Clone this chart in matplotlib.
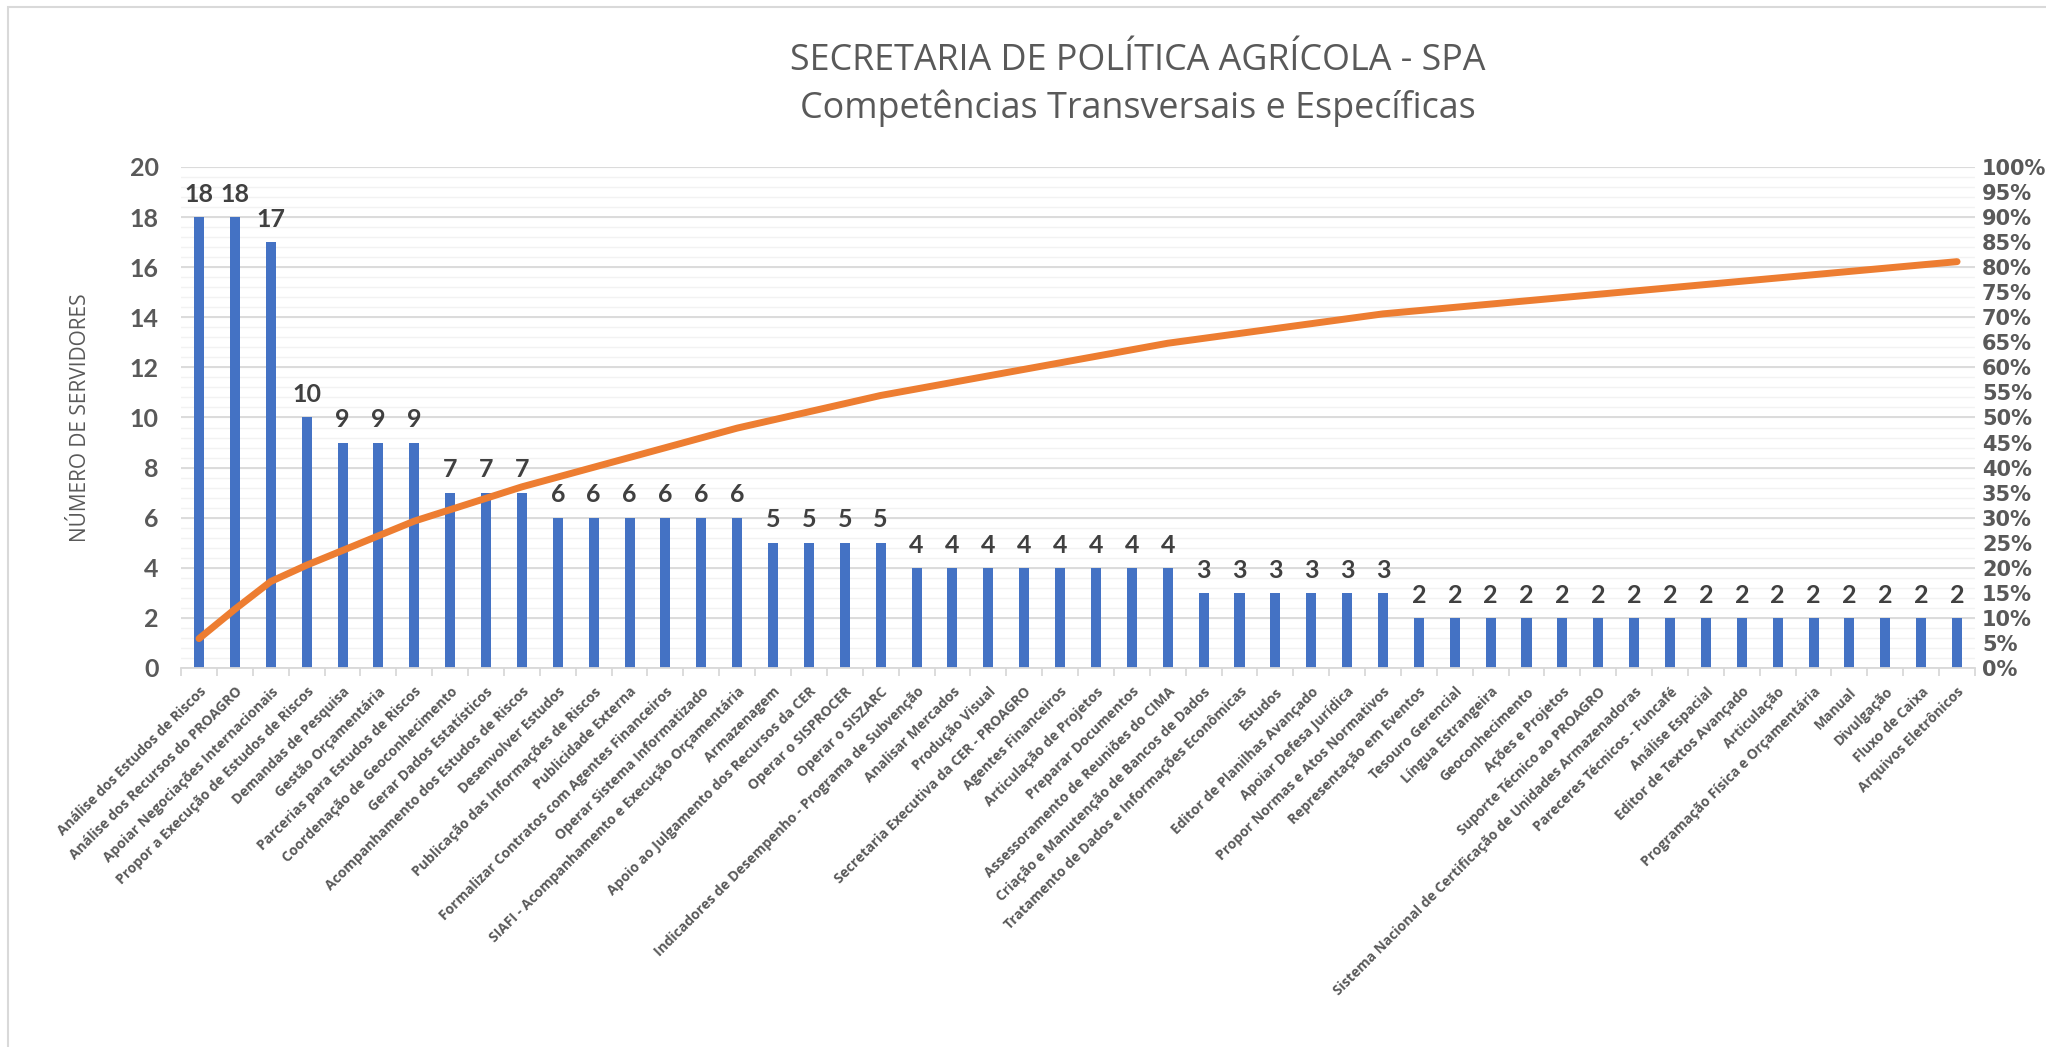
import numpy as np
import matplotlib
matplotlib.use("Agg")
from matplotlib import pyplot as plt
from matplotlib.patches import Rectangle

# competencias e numero de servidores
competencias = [
    "Análise dos Estudos de Riscos", "Análise dos Recursos do PROAGRO",
    "Apoiar Negociações Internacionais", "Propor a Execução de Estudos de Riscos",
    "Demandas de Pesquisa", "Gestão Orçamentária", "Parcerias para Estudos de Riscos",
    "Coordenação de Geoconhecimento", "Gerar Dados Estatísticos",
    "Acompanhamento dos Estudos de Riscos", "Desenvolver Estudos",
    "Publicação das Informações de Riscos", "Publicidade Externa",
    "Formalizar Contratos com Agentes Financeiros", "Operar Sistema Informatizado",
    "SIAFI - Acompanhamento e Execução Orçamentária", "Armazenagem",
    "Apoio ao Julgamento dos Recursos da CER", "Operar o SISPROCER", "Operar o SISZARC",
    "Indicadores de Desempenho - Programa de Subvenção", "Analisar Mercados",
    "Produção Visual", "Secretaria Executiva da CER - PROAGRO", "Agentes Financeiros",
    "Articulação de Projetos", "Preparar Documentos", "Assessoramento de Reuniões do CIMA",
    "Criação e Manutenção de Bancos de Dados",
    "Tratamento de Dados e Informações Econômicas", "Estudos",
    "Editor de Planilhas Avançado", "Apoiar Defesa Jurídica",
    "Propor Normas e Atos Normativos", "Representação em Eventos", "Tesouro Gerencial",
    "Língua Estrangeira", "Geoconhecimento", "Ações e Projetos",
    "Suporte Técnico ao PROAGRO",
    "Sistema Nacional de Certificação de Unidades Armazenadoras",
    "Pareceres Técnicos - Funcafé", "Análise Espacial", "Editor de Textos Avançado",
    "Articulação", "Programação Física e Orçamentária", "Manual", "Divulgação",
    "Fluxo de Caixa", "Arquivos Eletrônicos",
]
servidores = [18, 18, 17, 10, 9, 9, 9, 7, 7, 7,
              6, 6, 6, 6, 6, 6, 5, 5, 5, 5,
              4, 4, 4, 4, 4, 4, 4, 4, 3, 3,
              3, 3, 3, 3, 2, 2, 2, 2, 2, 2,
              2, 2, 2, 2, 2, 2, 2, 2, 2, 2]
# total de servidores usado no acumulado (a linha termina em ~81%)
total_servidores = 307

cinza = "#595959"
azul = "#4472C4"
laranja = "#ED7D31"

x = np.arange(len(competencias))
acumulado = np.cumsum(servidores) / total_servidores

fig = plt.figure(figsize=(20.46, 10.47), dpi=100)
ax = fig.add_axes([0.0885, 0.362, 0.8768, 0.4785])

# moldura do grafico
fig.patches.append(Rectangle((0.004, -0.05), 1.2, 1.043, transform=fig.transFigure,
                             fill=False, edgecolor="#D9D9D9", linewidth=1.5))

# grades
for v in np.arange(0, 20.01, 0.4):
    ax.axhline(v, color="#F2F2F2", linewidth=1, zorder=0)
for v in range(0, 21, 2):
    ax.axhline(v, color="#D9D9D9", linewidth=1.3, zorder=0)

ax.bar(x, servidores, width=0.28, color=azul, zorder=2)
for xi, v in zip(x, servidores):
    ax.text(xi, v + 0.45, str(v), ha="center", va="bottom", fontsize=18,
            fontweight="bold", color="#404040", family="Lato")

ax.set_xlim(-0.5, len(competencias) - 0.5)
ax.set_ylim(0, 20)
ax.set_yticks(range(0, 21, 2))
ax.tick_params(axis="y", length=0, labelsize=18, labelcolor=cinza, pad=16)
for t in ax.get_yticklabels():
    t.set_fontweight("bold")
    t.set_family("Lato")

ax.set_xticks(x)
ax.set_xticklabels(competencias, rotation=45, ha="right", rotation_mode="anchor",
                   fontsize=10, fontweight="bold", color=cinza, family="Open Sans")
ax.set_xticks(np.arange(-0.5, len(competencias)), minor=True)
ax.tick_params(axis="x", which="major", length=0, pad=12)
ax.tick_params(axis="x", which="minor", length=6, color="#D9D9D9", width=1.3)

for s in ["top", "right", "left"]:
    ax.spines[s].set_visible(False)
ax.spines["bottom"].set_color("#D9D9D9")
ax.spines["bottom"].set_linewidth(1.3)

ax.set_ylabel("NÚMERO DE SERVIDORES", fontsize=15, color=cinza, family="Open Sans",
              labelpad=28)

# eixo secundario com o acumulado
ax2 = ax.twinx()
ax2.plot(x, acumulado, color=laranja, linewidth=5, solid_capstyle="round", zorder=3)
ax2.set_ylim(0, 1)
ax2.set_yticks(np.arange(0, 1.001, 0.05))
ax2.set_yticklabels([f"{int(round(v * 100))}%" for v in np.arange(0, 1.001, 0.05)])
ax2.tick_params(axis="y", length=0, labelsize=15, labelcolor=cinza, pad=5)
for t in ax2.get_yticklabels():
    t.set_fontweight("bold")
for s in ax2.spines.values():
    s.set_visible(False)

fig.text(0.556, 0.942, "SECRETARIA DE POLÍTICA AGRÍCOLA - SPA", ha="center", va="center",
         fontsize=25.8, color=cinza, family="Open Sans")
fig.text(0.556, 0.897, "Competências Transversais e Específicas", ha="center", va="center",
         fontsize=25.8, color=cinza, family="Open Sans")

fig.savefig("out.png", dpi=100)
